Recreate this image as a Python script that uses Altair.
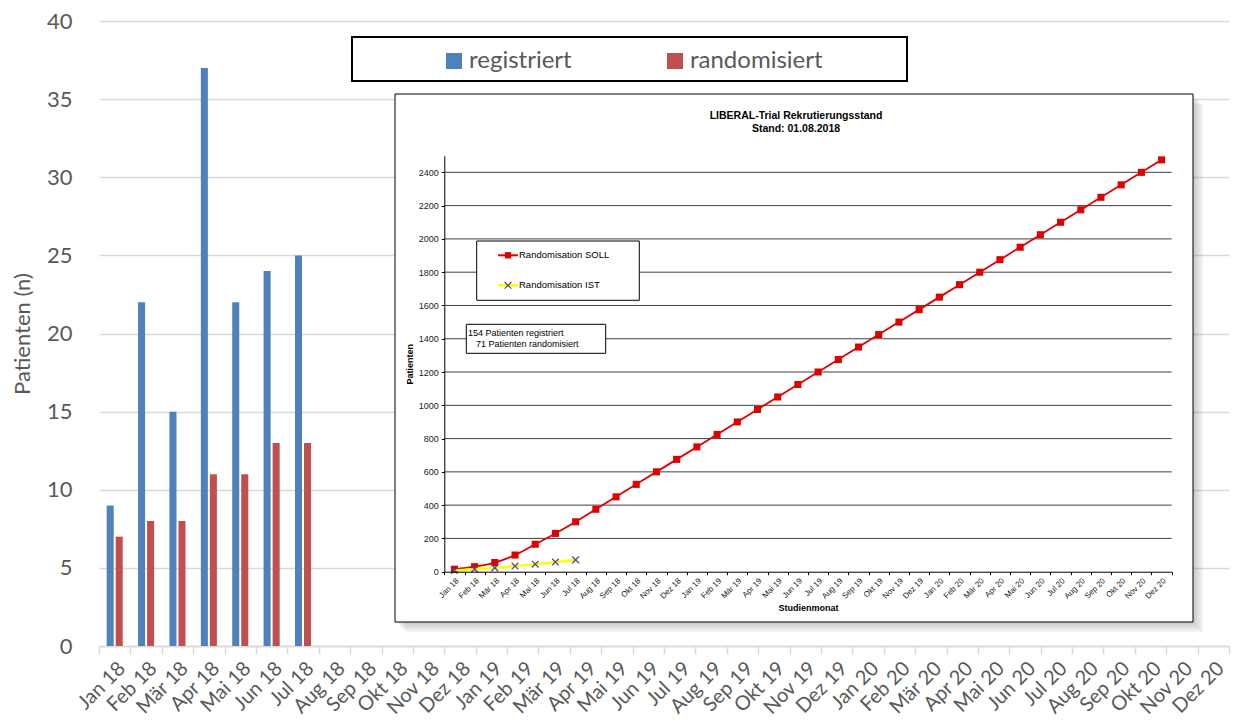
import altair as alt
import pandas as pd

# ---------------- data ----------------
months = ["Jan 18", "Feb 18", "Mär 18", "Apr 18", "Mai 18", "Jun 18", "Jul 18", "Aug 18",
          "Sep 18", "Okt 18", "Nov 18", "Dez 18", "Jan 19", "Feb 19", "Mär 19", "Apr 19",
          "Mai 19", "Jun 19", "Jul 19", "Aug 19", "Sep 19", "Okt 19", "Nov 19", "Dez 19",
          "Jan 20", "Feb 20", "Mär 20", "Apr 20", "Mai 20", "Jun 20", "Jul 20", "Aug 20",
          "Sep 20", "Okt 20", "Nov 20", "Dez 20"]
bar_months = ["Jan 18", "Feb 18", "Mär 18", "Apr 18", "Mai 18", "Jun 18", "Jul 18"]
series_names = ["registriert", "randomisiert"]
registriert = [9, 22, 15, 37, 22, 24, 25]
randomisiert = [7, 8, 8, 11, 11, 13, 13]

soll = [15, 30, 55, 100, 165, 230, 300, 375, 450, 525, 600, 675, 750, 825, 900, 975,
        1050, 1125, 1200, 1275, 1350, 1425, 1500, 1575, 1650, 1725, 1800, 1875, 1950,
        2025, 2100, 2175, 2250, 2325, 2400, 2475]
ist = [7, 15, 23, 34, 45, 58, 71]
inset_ticks = [0, 200, 400, 600, 800, 1000, 1200, 1400, 1600, 1800, 2000, 2200, 2400]
inset_grid = [200, 400, 600, 800, 1000, 1200, 1400, 1600, 1800, 2000, 2200, 2400]

bars_df = pd.DataFrame({
    "Monat": bar_months * 2,
    "Serie": ["registriert"] * len(bar_months) + ["randomisiert"] * len(bar_months),
    "Patienten": registriert + randomisiert,
})
soll_df = pd.DataFrame({"Monat": months, "Patienten": soll})
ist_df = pd.DataFrame({"Monat": bar_months, "Patienten": ist})
grid_df = pd.DataFrame({"Patienten": inset_grid})
one = pd.DataFrame({"k": [0]})

MAIN_FONT = "Lato"
INSET_FONT = "Liberation Sans"
GREY = "#595959"
H = 625      # plot height
DY = -2      # vertical shift of decorations relative to plot origin

# ---------------- main bar chart ----------------
bars = alt.Chart(bars_df).mark_bar().encode(
    x=alt.X("Monat:N", sort=months,
            scale=alt.Scale(domain=months, paddingInner=0, paddingOuter=0),
            axis=alt.Axis(title=None, labelAngle=-45, labelFontSize=20, labelFont=MAIN_FONT,
                          labelColor=GREY, tickBand="extent", tickColor="#d9d9d9", tickSize=8,
                          tickWidth=1.5, domainColor="#d9d9d9", domainWidth=1.5,
                          labelPadding=4, grid=False)),
    xOffset=alt.XOffset("Serie:N", sort=series_names,
                        scale=alt.Scale(domain=series_names, paddingInner=0.22, paddingOuter=0.85)),
    y=alt.Y("Patienten:Q", scale=alt.Scale(domain=[0, 40], nice=False),
            axis=alt.Axis(values=list(range(0, 41, 5)), title="Patienten (n)", titleFontSize=22,
                          titleFont=MAIN_FONT, titleFontWeight="normal", titleColor=GREY,
                          labelFontSize=22, labelFont=MAIN_FONT, labelColor=GREY, labelPadding=27,
                          ticks=False, domain=False, gridColor="#d9d9d9", gridWidth=1.5,
                          titlePadding=12)),
    color=alt.Color("Serie:N", sort=series_names,
                    scale=alt.Scale(domain=series_names, range=["#4F81BD", "#C0504D"]),
                    legend=alt.Legend(title=None, orient="none", legendX=343, legendY=30 + DY,
                                      direction="horizontal", symbolType="square", symbolSize=256,
                                      symbolStrokeWidth=0, labelFontSize=24, labelFont=MAIN_FONT,
                                      labelColor=GREY, labelOffset=3, columnPadding=91, padding=0,
                                      symbolOpacity=1)),
)

legend_box = alt.Chart(one).mark_rect(fill="white", fillOpacity=0, stroke="black", strokeWidth=2).encode(
    x=alt.value(253), x2=alt.value(808), y=alt.value(18 + DY), y2=alt.value(62 + DY))

main = alt.layer(legend_box, bars)

# ---------------- inset line chart ----------------
ix = alt.Scale(domain=months, type="band", paddingInner=0, paddingOuter=0, range=[345.3, 1072.7])
iy = alt.Scale(domain=[0, 2500], nice=False, zero=True, range=[552.7 + DY, 136.7 + DY])

ax_x = alt.Axis(orient="bottom", offset=552.7 + DY - H, title="Studienmonat", titleFont=INSET_FONT,
                titleFontSize=9, titleFontWeight="bold", titleColor="black", titlePadding=3,
                labelAngle=-45, labelFontSize=8, labelFont=INSET_FONT, labelColor="#222222",
                labelPadding=2, tickBand="extent", tickSize=3, tickColor="black",
                domainColor="black", domainWidth=1, grid=False, zindex=1)
ax_y = alt.Axis(orient="left", offset=-345.3, values=inset_ticks, format="d", title="Patienten",
                titleFont=INSET_FONT, titleFontSize=9, titleFontWeight="bold", titleColor="black",
                titlePadding=4, labelFontSize=9, labelFont=INSET_FONT, labelColor="#222222",
                labelPadding=3, tickSize=3, tickColor="black", domainColor="black",
                domainWidth=1, grid=False, zindex=1)

X = alt.X("Monat:N", sort=months, scale=ix, axis=ax_x)
Y = alt.Y("Patienten:Q", scale=iy, axis=ax_y)

shadows = [
    alt.Chart(one).mark_rect(fill="#7f7f7f", opacity=0.09).encode(
        x=alt.value(296 + k), x2=alt.value(1094 + k), y=alt.value(75 + DY + k), y2=alt.value(603 + DY + k))
    for k in (2, 4, 6, 8, 10)
]
box = alt.Chart(one).mark_rect(fill="white", stroke="black", strokeWidth=1).encode(
    x=alt.value(296), x2=alt.value(1094), y=alt.value(75 + DY), y2=alt.value(603 + DY))

grid = alt.Chart(grid_df).mark_rule(color="#404040", strokeWidth=1).encode(
    y=Y, x=alt.value(345.3), x2=alt.value(1072.7))

soll_line = alt.Chart(soll_df).mark_line(color="#e00000", strokeWidth=1.8, interpolate="monotone").encode(x=X, y=Y)
soll_pts = alt.Chart(soll_df).mark_point(shape="square", filled=True, size=50, color="#e00000",
                                         opacity=1).encode(x=X, y=Y)
ist_line = alt.Chart(ist_df).mark_line(color="#ffff00", strokeWidth=2.5, interpolate="monotone").encode(x=X, y=Y)
XSHAPE = "M-1,-1L1,1M-1,1L1,-1"
ist_pts = alt.Chart(ist_df).mark_point(shape=XSHAPE, filled=False, size=45, stroke="#4b4b9a",
                                       strokeWidth=1.3, opacity=1).encode(x=X, y=Y)

title1 = alt.Chart(one).mark_text(text="LIBERAL-Trial Rekrutierungsstand", font=INSET_FONT,
                                  fontSize=10.5, fontWeight="bold", color="black", align="center",
                                  baseline="middle").encode(x=alt.value(697), y=alt.value(97 + DY))
title2 = alt.Chart(one).mark_text(text="Stand: 01.08.2018", font=INSET_FONT, fontSize=10.5,
                                  fontWeight="bold", color="black", align="center",
                                  baseline="middle").encode(x=alt.value(697), y=alt.value(110 + DY))

# inset legend
ileg_box = alt.Chart(one).mark_rect(fill="white", stroke="black", strokeWidth=1).encode(
    x=alt.value(377.7), x2=alt.value(540.3), y=alt.value(222 + DY), y2=alt.value(281.3 + DY))
ileg_soll_line = alt.Chart(one).mark_rule(color="#e00000", strokeWidth=2).encode(
    x=alt.value(399), x2=alt.value(419), y=alt.value(236.3 + DY))
ileg_soll_pt = alt.Chart(one).mark_point(shape="square", filled=True, size=40, color="#e00000",
                                         opacity=1).encode(x=alt.value(409), y=alt.value(236.3 + DY))
ileg_ist_line = alt.Chart(one).mark_rule(color="#ffff00", strokeWidth=2.5).encode(
    x=alt.value(399), x2=alt.value(419), y=alt.value(266.3 + DY))
ileg_ist_pt = alt.Chart(one).mark_point(shape=XSHAPE, filled=False, size=45, stroke="#4b4b9a",
                                        strokeWidth=1.3, opacity=1).encode(x=alt.value(409), y=alt.value(266.3 + DY))
ileg_t1 = alt.Chart(one).mark_text(text="Randomisation SOLL", font=INSET_FONT, fontSize=9.5,
                                   color="black", align="left", baseline="middle").encode(
    x=alt.value(420), y=alt.value(236.3 + DY))
ileg_t2 = alt.Chart(one).mark_text(text="Randomisation IST", font=INSET_FONT, fontSize=9.5,
                                   color="black", align="left", baseline="middle").encode(
    x=alt.value(420), y=alt.value(266.3 + DY))

# info box
info_box = alt.Chart(one).mark_rect(fill="white", stroke="black", strokeWidth=1).encode(
    x=alt.value(367.3), x2=alt.value(506.7), y=alt.value(305.3 + DY), y2=alt.value(334.3 + DY))
info1 = alt.Chart(one).mark_text(text=f"{sum(registriert)} Patienten registriert", font=INSET_FONT,
                                 fontSize=9, color="black", align="left", baseline="middle").encode(
    x=alt.value(369), y=alt.value(314 + DY))
info2 = alt.Chart(one).mark_text(text=f"{sum(randomisiert)} Patienten randomisiert", font=INSET_FONT,
                                 fontSize=9, color="black", align="left", baseline="middle").encode(
    x=alt.value(377), y=alt.value(324.5 + DY))

inset = alt.layer(*shadows, box, grid, soll_line, soll_pts, ist_line, ist_pts, title1, title2,
                  ileg_box, ileg_soll_line, ileg_soll_pt, ileg_ist_line, ileg_ist_pt, ileg_t1, ileg_t2,
                  info_box, info1, info2)

chart = alt.layer(main, inset).resolve_scale(
    x="independent", y="independent"
).resolve_axis(
    x="independent", y="independent"
).properties(
    width=1130, height=H,
    padding={"left": 3, "top": 2, "right": 5, "bottom": 0},
    background="white",
).configure_view(strokeWidth=0)

chart.save("out.html", embed_options={"renderer": "svg", "actions": False})
